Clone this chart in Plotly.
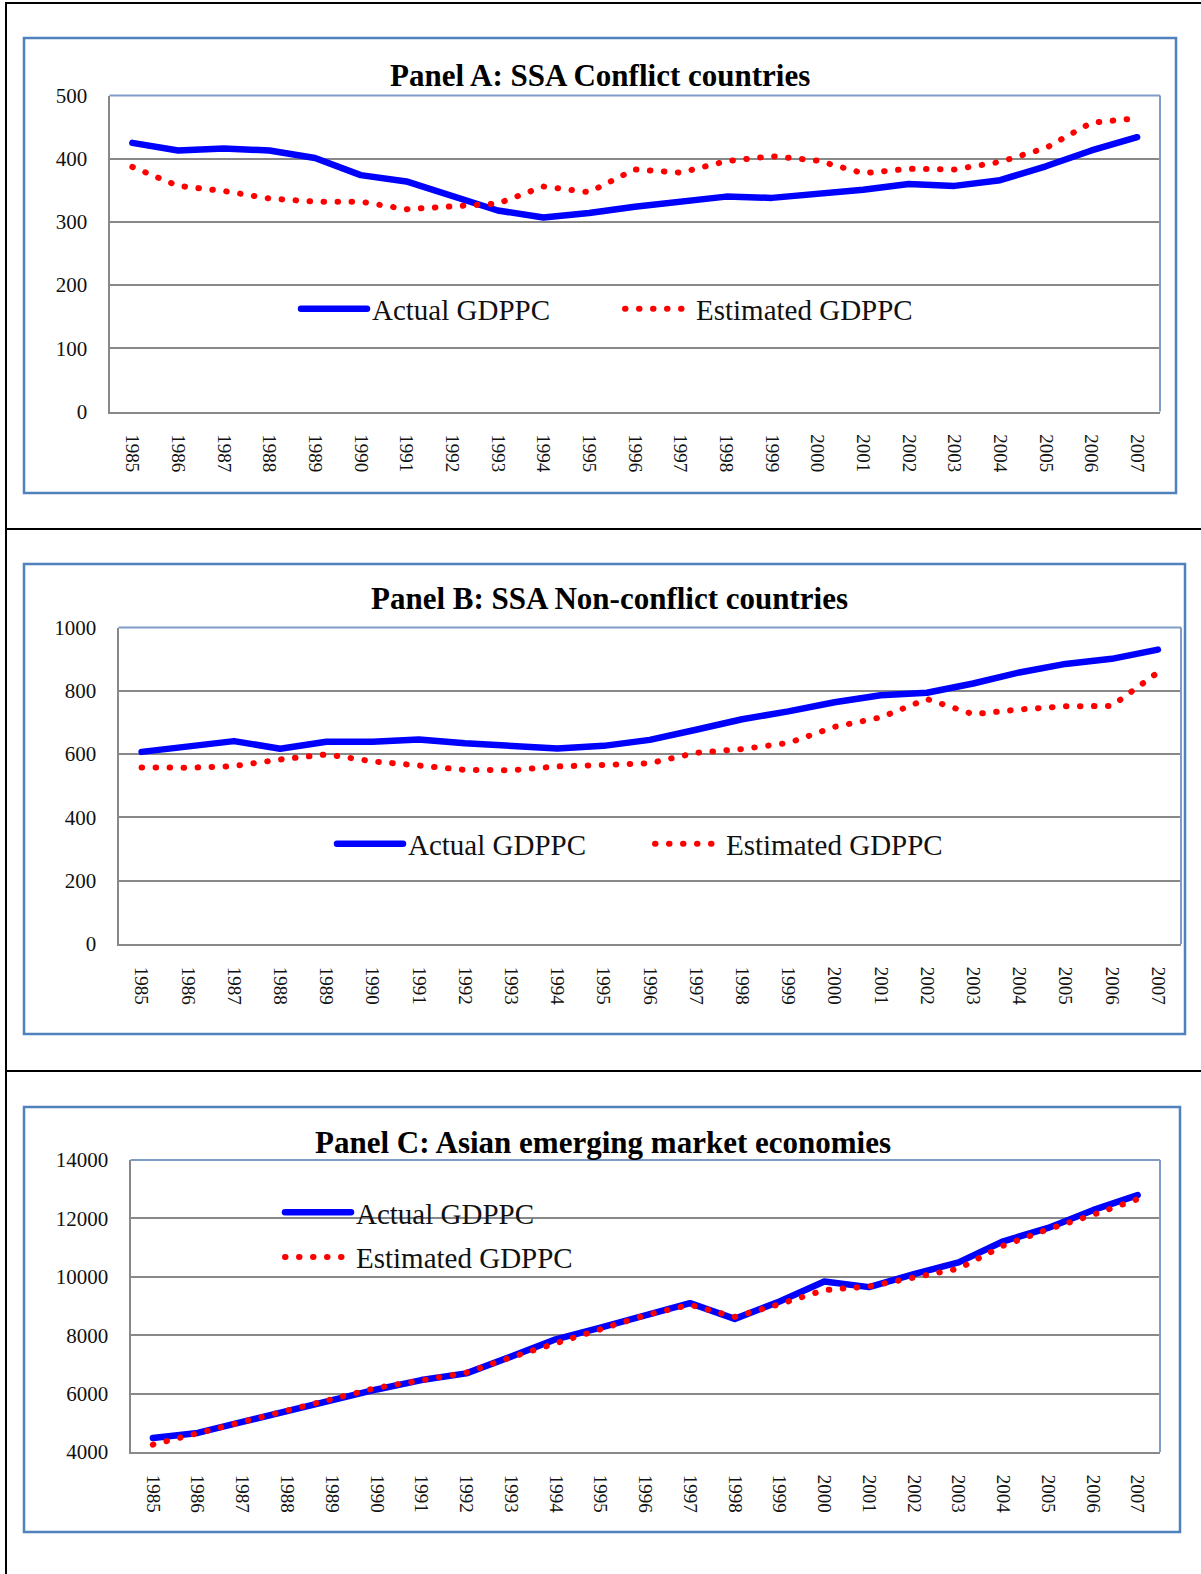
import plotly.graph_objects as go

W, H = 1201, 1574

years = [str(y) for y in range(1985, 2008)]

a_actual = [425, 413, 416, 413, 401, 374, 364, 341, 318, 307, 314, 324,
            331, 340, 338, 344, 351, 360, 357, 366, 388, 413, 434]
a_estimated = [387, 357, 349, 337, 332, 332, 320, 325, 329, 356, 347, 383,
               378, 396, 404, 397, 377, 384, 383, 395, 417, 457, 464]

b_actual = [607, 623, 641, 617, 639, 639, 646, 634, 628, 618, 626, 645,
            677, 710, 735, 764, 786, 794, 823, 858, 885, 901, 930]
b_estimated = [558, 557, 562, 583, 599, 577, 564, 550, 549, 561, 566, 571,
               604, 616, 635, 686, 716, 774, 726, 741, 751, 752, 858]

c_actual = [4481, 4653, 5031, 5420, 5798, 6142, 6463, 6692, 7265, 7860, 8261, 8673,
            9097, 8559, 9155, 9842, 9647, 10094, 10495, 11216, 11674, 12282, 12797]
c_estimated = [4252, 4630, 5020, 5432, 5810, 6199, 6440, 6715, 7242, 7723, 8204, 8684,
               9040, 8627, 9063, 9544, 9670, 9957, 10278, 11067, 11628, 12121, 12660]

titles = ["Panel A: SSA Conflict countries",
          "Panel B: SSA Non-conflict countries",
          "Panel C: Asian emerging market economies"]
series_names = ["Actual GDPPC", "Estimated GDPPC"]


def px(x):
    return x / W


def py(y):
    return 1 - y / H


SERIF = "Liberation Serif, Times New Roman, serif"
BLUE = "#0000FF"
RED = "#FF0000"
GRID = "#888888"
BOX = "#4F81BD"
PLOTBORDER = "#7F9BC8"

panels = [
    dict(actual=a_actual, est=a_estimated, x="x", y="y", leg="legend",
         plot=(109.5, 95.5, 1160, 411.5), box=(24, 38, 1176, 493),
         yrange=[0, 500], dtick=100, title_xy=(600, 75)),
    dict(actual=b_actual, est=b_estimated, x="x2", y="y2", leg="legend2",
         plot=(118.5, 627.5, 1181, 944), box=(24, 564, 1185, 1034),
         yrange=[0, 1000], dtick=200, title_xy=(609, 599)),
    dict(actual=c_actual, est=c_estimated, x="x3", y="y3", leg="legend3",
         plot=(130.5, 1160, 1160, 1452), box=(24, 1107, 1180, 1532),
         yrange=[4000, 14000], dtick=2000, title_xy=(603, 1142)),
]

fig = go.Figure()
shapes = []
annotations = []
layout = {}

for i, p in enumerate(panels):
    fig.add_trace(go.Scatter(
        x=years, y=p["actual"], name=series_names[0], mode="lines",
        line=dict(color=BLUE, width=6.5),
        xaxis=p["x"], yaxis=p["y"], legend=p["leg"], legendgroup="a%d" % i,
        hoverinfo="skip"))
    fig.add_trace(go.Scatter(
        x=years, y=p["est"], name=series_names[1], mode="lines",
        line=dict(color=RED, width=6, dash="0.5px,13.5px"),
        xaxis=p["x"], yaxis=p["y"], legend=p["leg"], legendgroup="b%d" % i,
        hoverinfo="skip"))

    x0, y0, x1, y1 = p["plot"]
    xname = "xaxis" if i == 0 else "xaxis%d" % (i + 1)
    yname = "yaxis" if i == 0 else "yaxis%d" % (i + 1)
    layout[xname] = dict(
        domain=[px(x0), px(x1)], anchor=p["y"], type="category",
        range=[-0.5, 22.5], tickangle=90, showgrid=False, zeroline=False,
        showline=True, linecolor=GRID, linewidth=2, ticks="",
        tickfont=dict(family=SERIF, size=19, color="#111111"),
        ticklabelstandoff=17, fixedrange=True, automargin=False)
    layout[yname] = dict(
        domain=[py(y1), py(y0)], anchor=p["x"], range=p["yrange"],
        dtick=p["dtick"], tickformat="d", showgrid=True, gridcolor=GRID,
        gridwidth=1.5, zeroline=False, showline=True, linecolor=GRID,
        linewidth=2, ticks="",
        tickfont=dict(family=SERIF, size=21, color="#111111"),
        ticklabelstandoff=16, fixedrange=True, automargin=False)

    # plot area top / right border (blue-grey)
    shapes.append(dict(type="line", xref="paper", yref="paper",
                       x0=px(x0), x1=px(x1), y0=py(y0), y1=py(y0),
                       line=dict(color=PLOTBORDER, width=2), layer="above"))
    shapes.append(dict(type="line", xref="paper", yref="paper",
                       x0=px(x1), x1=px(x1), y0=py(y0), y1=py(y1),
                       line=dict(color=PLOTBORDER, width=2), layer="above"))
    # chart box
    bx0, by0, bx1, by1 = p["box"]
    shapes.append(dict(type="rect", xref="paper", yref="paper",
                       x0=px(bx0), x1=px(bx1), y0=py(by1), y1=py(by0),
                       line=dict(color=BOX, width=2.5), layer="below"))
    tx, ty = p["title_xy"]
    annotations.append(dict(
        text="<b>%s</b>" % titles[i], xref="paper", yref="paper",
        x=px(tx), y=py(ty), xanchor="center", yanchor="middle", showarrow=False,
        font=dict(family=SERIF, size=31, color="#000000")))

# outer table lines
for (xa, ya, xb, yb) in [(5, 3, 1201, 3), (6, 3, 6, 1574),
                         (5, 529, 1201, 529), (5, 1071, 1201, 1071)]:
    shapes.append(dict(type="line", xref="paper", yref="paper",
                       x0=px(xa), x1=px(xb), y0=py(ya), y1=py(yb),
                       line=dict(color="#000000", width=2), layer="above"))

legfont = dict(family=SERIF, size=29, color="#111111")
layout["legend"] = dict(orientation="h", x=px(296), y=py(309), xanchor="left",
                        yanchor="middle", itemwidth=66, entrywidth=243,
                        font=legfont, bgcolor="rgba(0,0,0,0)")
layout["legend2"] = dict(orientation="h", x=px(332), y=py(844), xanchor="left",
                         yanchor="middle", itemwidth=66, entrywidth=237,
                         font=legfont, bgcolor="rgba(0,0,0,0)")
layout["legend3"] = dict(orientation="v", x=px(280), y=py(1187), xanchor="left",
                         yanchor="top", itemwidth=66, tracegroupgap=4,
                         font=legfont, bgcolor="rgba(0,0,0,0)")

fig.update_layout(
    width=W, height=H,
    margin=dict(l=0, r=0, t=0, b=0, pad=0, autoexpand=False),
    paper_bgcolor="white", plot_bgcolor="white",
    showlegend=True, shapes=shapes, annotations=annotations,
    **layout)

post = ("document.body.style.margin='0';document.body.style.overflow='hidden';"
        "var s=document.createElement('style');"
        "s.textContent='.js-line{stroke-linecap:round;stroke-linejoin:round;}';"
        "document.head.appendChild(s);")
fig.write_html("out.html", post_script=post,
               config={"displayModeBar": False, "staticPlot": False})
